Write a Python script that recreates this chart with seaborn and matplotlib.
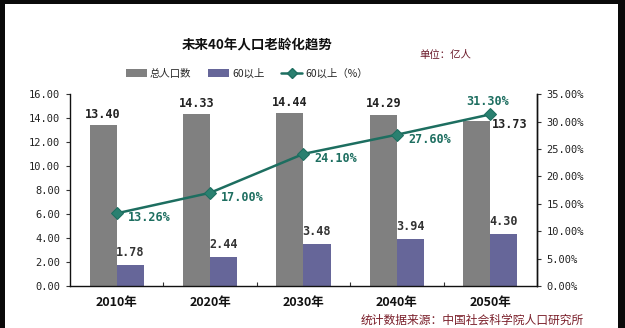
import matplotlib
matplotlib.use("Agg")
import matplotlib.pyplot as plt
from matplotlib.patches import Rectangle
from matplotlib.lines import Line2D
from matplotlib.ticker import FixedLocator
import seaborn as sns
import pandas as pd

# Data (亿人 / %)
years = ["2010年", "2020年", "2030年", "2040年", "2050年"]
total_pop = [13.40, 14.33, 14.44, 14.29, 13.73]
over60 = [1.78, 2.44, 3.48, 3.94, 4.30]
over60_pct = [13.26, 17.00, 24.10, 27.60, 31.30]
series_names = ["总人口数", "60以上", "60以上（%）"]
left_ticks = [0, 2, 4, 6, 8, 10, 12, 14, 16]
right_ticks = [0, 5, 10, 15, 20, 25, 30, 35]

sns.set_theme(style="white")
plt.rcParams["font.family"] = ["Noto Sans CJK SC", "DejaVu Sans"]

GRAY = "#808080"
PURPLE = "#666699"
TEAL = "#1d6e60"
MONO = ["DejaVu Sans Mono", "Noto Sans CJK SC"]

df = pd.DataFrame({
    "year": years * 2,
    "value": total_pop + over60,
    "series": [series_names[0]] * len(years) + [series_names[1]] * len(years),
})

fig = plt.figure(figsize=(6.25, 3.28), dpi=100)
fig.patch.set_facecolor("white")
ax = fig.add_axes([0.112, 0.128, 0.747, 0.585])

sns.barplot(data=df, x="year", y="value", hue="series", order=years,
            hue_order=series_names[:2], palette=[GRAY, PURPLE],
            width=0.58, gap=0, saturation=1, ax=ax, legend=False,
            edgecolor="none", errorbar=None)

ax.set_ylim(0, 16)
ax.set_xlim(-0.5, len(years) - 0.5)
ax.set_xlabel("")
ax.set_ylabel("")
ax.yaxis.set_major_locator(FixedLocator(left_ticks))
ax.set_yticklabels([f"{v:.2f}" for v in left_ticks], family=MONO,
                   fontsize=7.5, color="#222222")
ax.set_xticks(range(len(years)))
ax.set_xticklabels(years, fontsize=9, fontweight="bold", color="#111111")
ax.tick_params(axis="x", length=0, pad=7)
ax.xaxis.set_minor_locator(FixedLocator([i + 0.5 for i in range(len(years) - 1)]))
ax.tick_params(axis="x", which="minor", direction="in", length=3,
               width=0.8, color="#333333", bottom=True)
ax.tick_params(axis="y", direction="out", length=3, width=0.8,
               color="#333333", left=True, pad=4)
for side in ["left", "bottom", "right"]:
    ax.spines[side].set_color("#111111")
    ax.spines[side].set_linewidth(1.0)
ax.spines["top"].set_visible(False)

# Bar value labels
bar_w = 0.29
for i, v in enumerate(total_pop):
    if i == len(years) - 1:
        ax.text(i + 0.02, v - 0.3, f"{v:.2f}", ha="left", va="center",
                family=MONO, fontsize=8.5, fontweight="bold", color="#222222")
    else:
        ax.text(i - bar_w / 2, v + 0.35, f"{v:.2f}", ha="center", va="bottom",
                family=MONO, fontsize=8.5, fontweight="bold", color="#222222")
for i, v in enumerate(over60):
    ax.text(i + bar_w / 2, v + 0.5, f"{v:.2f}", ha="center", va="bottom",
            family=MONO, fontsize=8.5, fontweight="bold", color="#333333")

# Percentage line on the secondary axis
ax2 = ax.twinx()
xpos = list(range(len(years)))
sns.lineplot(x=xpos, y=over60_pct, ax=ax2, color=TEAL, linewidth=1.8,
             marker="D", markersize=6, markerfacecolor="#2a8070",
             markeredgecolor=TEAL, legend=False)
ax2.set_ylim(0, 35)
ax2.set_xlim(-0.5, len(years) - 0.5)
ax2.yaxis.set_major_locator(FixedLocator(right_ticks))
ax2.set_yticklabels([f"{v:.2f}%" for v in right_ticks], family=MONO,
                    fontsize=7.5, color="#222222")
ax2.tick_params(axis="y", direction="out", length=3, width=0.8,
                color="#333333", right=True, pad=4)
ax2.set_ylabel("")
for side in ["top", "left", "bottom"]:
    ax2.spines[side].set_visible(False)
ax2.spines["right"].set_color("#111111")
ax2.spines["right"].set_linewidth(1.0)
ax2.grid(False)

for i, v in enumerate(over60_pct):
    if i == len(years) - 1:
        ax2.text(i - 0.03, v + 1.2, f"{v:.2f}%", ha="center", va="bottom",
                 family=MONO, fontsize=8.5, fontweight="bold", color=TEAL)
    else:
        ax2.text(i + 0.12, v - 0.8, f"{v:.2f}%", ha="left", va="center",
                 family=MONO, fontsize=8.5, fontweight="bold", color=TEAL)

# Title, unit and legend
fig.text(0.412, 0.862, "未来40年人口老龄化趋势", ha="center", va="center",
         fontsize=9.7, fontweight="bold", color="#111111")
fig.text(0.712, 0.832, "单位：亿人", ha="center", va="center",
         fontsize=7.5, color="#6b1a2a")

handles = [
    Rectangle((0, 0), 1, 1, facecolor=GRAY, edgecolor="none"),
    Rectangle((0, 0), 1, 1, facecolor=PURPLE, edgecolor="none"),
    Line2D([0], [0], color=TEAL, linewidth=1.8, marker="D", markersize=5,
           markerfacecolor="#2a8070", markeredgecolor=TEAL),
]
fig.legend(handles, series_names, loc="center", bbox_to_anchor=(0.395, 0.775),
           ncol=3, frameon=False, fontsize=7.5, handlelength=2.0,
           handleheight=0.8, handletextpad=0.3, columnspacing=1.6)

# Source note along the lower edge
fig.text(0.577, 0.004, "统计数据来源：中国社会科学院人口研究所",
         ha="left", va="bottom", fontsize=8.5, color="#7a1f2a")

# Dark frame around the picture
frame = "#0a0a0a"
fig.patches.extend([
    Rectangle((0, 0.988), 1, 0.012, transform=fig.transFigure,
              facecolor=frame, edgecolor="none", zorder=10),
    Rectangle((0, 0), 0.008, 1, transform=fig.transFigure,
              facecolor=frame, edgecolor="none", zorder=10),
    Rectangle((0.989, 0), 0.011, 1, transform=fig.transFigure,
              facecolor=frame, edgecolor="none", zorder=10),
])

fig.savefig("out.png", dpi=100, facecolor="white")
